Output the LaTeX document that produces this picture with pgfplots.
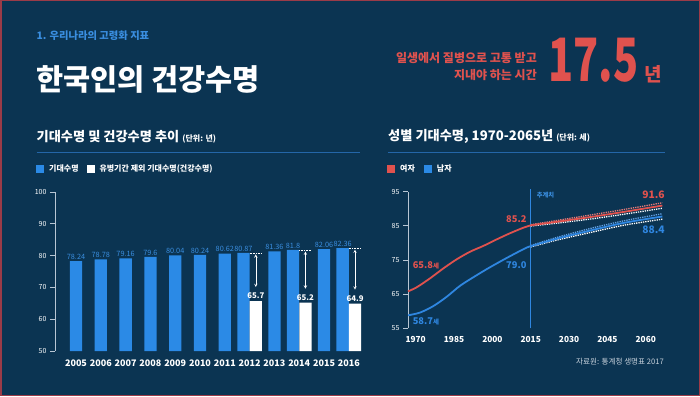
\documentclass[border=0pt]{standalone}
\usepackage{fontspec}
\setmainfont{Noto Sans CJK KR}
\usepackage{pgfplots}
\pgfplotsset{compat=1.18}
\pgfplotsset{/pgf/number format/assume math mode=true}
\definecolor{bg}{HTML}{0B3452}
\definecolor{bblue}{HTML}{2B8AE6}
\definecolor{lblue}{HTML}{3A8EE0}
\definecolor{lineblue}{HTML}{2F86E0}
\definecolor{rred}{HTML}{E0524E}
\definecolor{rule}{HTML}{2466A8}
\definecolor{framec}{HTML}{9B3B48}
\definecolor{axisc}{HTML}{B8C6D4}
\definecolor{foot}{HTML}{C8D2DC}
\newcommand{\fs}[1]{\fontsize{#1}{#1}\selectfont}

\begin{document}
\begin{tikzpicture}[x=1pt,y=1pt]
\useasboundingbox (0,0) rectangle (700,-396);
\fill[bg] (0,0) rectangle (700,-396);
\draw[framec, line width=1.5pt] (0.75,-0.75) rectangle (699.25,-395.25);

% header
\node[anchor=west, text=lblue, font=\bfseries\fs{10.3}, inner sep=0] at (36.5,-36) {1. 우리나라의 고령화 지표};
\node[anchor=west, text=white, font=\bfseries\fs{29.5}, inner sep=0] at (36,-79) {한국인의 건강수명};
\node[anchor=east, text=rred, font=\bfseries\fs{12}, inner sep=0] at (537,-58.3) {일생에서 질병으로 고통 받고};
\node[anchor=east, text=rred, font=\bfseries\fs{12}, inner sep=0] at (537,-75.5) {지내야 하는 시간};
\node[anchor=south west, text=rred, font=\bfseries\fs{50}, inner sep=0] at (548,-82.7) {\resizebox{90pt}{43.4pt}{17.5}};
\node[anchor=west, text=rred, font=\bfseries\fs{19}, inner sep=0] at (644,-74) {년};

% section titles
\node[anchor=west, text=white, font=\bfseries\fs{13.2}, inner sep=0] at (36.5,-136.7) {기대수명 및 건강수명 추이 {\fs{8}(단위: 년)}};
\node[anchor=west, text=white, font=\bfseries\fs{13.2}, inner sep=0] at (388,-136.7) {성별 기대수명, 1970-2065년 {\fs{8}(단위: 세)}};
\draw[rule, line width=0.8pt] (36.5,-152.3) -- (360,-152.3);
\draw[rule, line width=0.8pt] (388,-152.3) -- (665,-152.3);

% legends
\fill[bblue] (36,-165) rectangle (44,-173);
\node[anchor=west, text=white, font=\bfseries\fs{8}, inner sep=0] at (49,-169) {기대수명};
\fill[white] (87.3,-165) rectangle (95.3,-173);
\node[anchor=west, text=white, font=\bfseries\fs{8}, inner sep=0] at (99.3,-169) {유병기간 제외 기대수명(건강수명)};
\fill[rred] (387.3,-165) rectangle (395.3,-172.5);
\node[anchor=west, text=white, font=\bfseries\fs{8}, inner sep=0] at (400,-168.8) {여자};
\fill[bblue] (424,-165) rectangle (432,-172.5);
\node[anchor=west, text=white, font=\bfseries\fs{8}, inner sep=0] at (436.7,-168.8) {남자};

% footer
\node[anchor=east, text=foot, font=\fs{7.6}, inner sep=0] at (664,-361.7) {자료원: 통계청 생명표 2017};

% ---------------- left bar chart ----------------
\begin{axis}[
  at={(55pt,-351pt)}, anchor=south west, scale only axis,
  width=308.7pt, height=159pt,
  xmin=-0.847, xmax=11.6, ymin=50, ymax=100,
  axis y line*=left, axis x line*=bottom,
  x axis line style={draw=none},
  y axis line style={axisc, line width=0.8pt, -},
  ytick={50,60,...,100},
  xtick={0,...,11},
  xticklabels={2005,2006,2007,2008,2009,2010,2011,2012,2013,2014,2015,2016},
  xtick style={draw=none},
  ytick style={axisc, line width=0.8pt},
  tick align=outside, major tick length=5pt,
  yticklabel style={text=white, font=\fs{7}},
  xticklabel style={text=white, font=\bfseries\fs{9}},
  /pgf/number format/1000 sep={},
]
\addplot[ybar, bar width=12.3pt, bar shift=0pt, fill=bblue, draw=none,
  nodes near coords, nodes near coords style={text=lblue, font=\fs{7.3}, inner sep=1.5pt}]
  coordinates {(0,78.24)(1,78.78)(2,79.16)(3,79.6)(4,80.04)(5,80.24)(6,80.62)(8,81.36)(10,82.06)};
\addplot[ybar, bar width=12.3pt, bar shift=0pt, fill=bblue, draw=none,
  nodes near coords, nodes near coords style={text=lblue, font=\fs{7.3}, inner sep=1.5pt}]
  coordinates {(6.75,80.87)(8.75,81.8)(10.75,82.36)};
\addplot[ybar, bar width=12.3pt, bar shift=0pt, fill=white, draw=none,
  nodes near coords, nodes near coords style={text=white, font=\bfseries\fs{7.8}, inner sep=2pt}]
  coordinates {(7.25,65.7)(9.25,65.2)(11.25,64.9)};
\draw[white, densely dotted, line width=0.6pt] (axis cs:7.0,80.87) -- (axis cs:7.5,80.87);
\draw[white, densely dotted, line width=0.6pt] (axis cs:9.0,81.8) -- (axis cs:9.5,81.8);
\draw[white, densely dotted, line width=0.6pt] (axis cs:11.0,82.36) -- (axis cs:11.5,82.36);
\draw[white, <->, >=stealth, line width=0.5pt] (axis cs:7.25,80.4) -- (axis cs:7.25,70.1);
\draw[white, <->, >=stealth, line width=0.5pt] (axis cs:9.25,81.3) -- (axis cs:9.25,69.6);
\draw[white, <->, >=stealth, line width=0.5pt] (axis cs:11.25,81.9) -- (axis cs:11.25,69.3);
\end{axis}

% ---------------- right line chart ----------------
\begin{axis}[
  at={(408pt,-328.3pt)}, anchor=south west, scale only axis,
  width=258.2pt, height=136.8pt,
  xmin=1967, xmax=2068, ymin=55, ymax=95,
  axis y line*=left, axis x line*=bottom,
  x axis line style={draw=none},
  y axis line style={axisc, line width=0.8pt, -},
  ytick={55,65,...,95},
  xtick={1970,1985,...,2060},
  xtick style={draw=none},
  ytick style={axisc, line width=0.8pt},
  tick align=outside, major tick length=5pt,
  yticklabel style={text=white, font=\fs{7}},
  xticklabel style={text=white, font=\bfseries\fs{8.3}},
  /pgf/number format/1000 sep={},
  clip=false,
]
\draw[lineblue, line width=0.8pt] (axis cs:2015,55) -- (axis cs:2015,95.6);
\node[anchor=west, text=lblue, font=\bfseries\fs{6.3}, inner sep=0] at (axis cs:2017.3,94.0) {추계치};

% projection bands (dotted)
\addplot[rred!75!white, densely dotted, line width=1.3pt, smooth] coordinates {(2015,85.3)(2025.8,86.6)(2038.9,88.2)(2051.9,89.8)(2066.5,91.7)};
\addplot[white, densely dotted, line width=1.3pt, smooth] coordinates {(2015,84.9)(2025.8,85.8)(2038.9,87.0)(2051.9,88.4)(2066.5,90.1)};
\addplot[lineblue!75!white, densely dotted, line width=1.3pt, smooth] coordinates {(2015,79.2)(2025.8,81.7)(2038.9,84.3)(2051.9,86.5)(2066.5,88.5)};
\addplot[white, densely dotted, line width=1.3pt, smooth] coordinates {(2015,78.8)(2025.8,80.9)(2038.9,83.1)(2051.9,85.2)(2066.5,86.9)};

% female
\addplot[rred, line width=1.8pt, smooth] coordinates {(1967,65.8)(1970.4,67.0)(1975.6,69.6)(1980.8,72.5)(1986.1,75.2)(1991.3,77.4)(1996.5,79.1)(2001.7,81.0)(2006.9,82.8)(2012.1,84.4)(2015,85.1)};
\addplot[rred, line width=1.8pt, smooth] coordinates {(2015,85.1)(2025.8,86.2)(2038.9,87.6)(2051.9,89.1)(2066.5,90.9)};
% male
\addplot[lineblue, line width=1.8pt, smooth] coordinates {(1967,58.8)(1971.7,59.6)(1976.9,61.5)(1982.1,64.2)(1987.3,67.4)(1992.5,69.9)(1997.8,72.3)(2003,74.5)(2008.2,76.6)(2013.4,78.6)(2015,79.0)};
\addplot[lineblue, line width=1.8pt, smooth] coordinates {(2015,79.0)(2025.8,81.3)(2038.9,83.7)(2051.9,85.9)(2066.5,87.7)};

% value labels
\node[anchor=west, text=rred, font=\bfseries\fs{9.3}, inner sep=0] at (axis cs:1968.8,73.5) {65.8{\fs{6.5}세}};
\node[anchor=west, text=lineblue, font=\bfseries\fs{9.3}, inner sep=0] at (axis cs:1968.8,56.9) {58.7{\fs{6.5}세}};
\node[anchor=east, text=rred, font=\bfseries\fs{9.3}, inner sep=0] at (axis cs:2013.4,86.9) {85.2};
\node[anchor=east, text=lineblue, font=\bfseries\fs{9.3}, inner sep=0] at (axis cs:2013.4,73.5) {79.0};
\node[anchor=east, text=rred, font=\bfseries\fs{10.3}, inner sep=0] at (axis cs:2067.5,94.0) {91.6};
\node[anchor=east, text=lineblue, font=\bfseries\fs{10.3}, inner sep=0] at (axis cs:2067.5,83.7) {88.4};
\end{axis}
\end{tikzpicture}
\end{document}
